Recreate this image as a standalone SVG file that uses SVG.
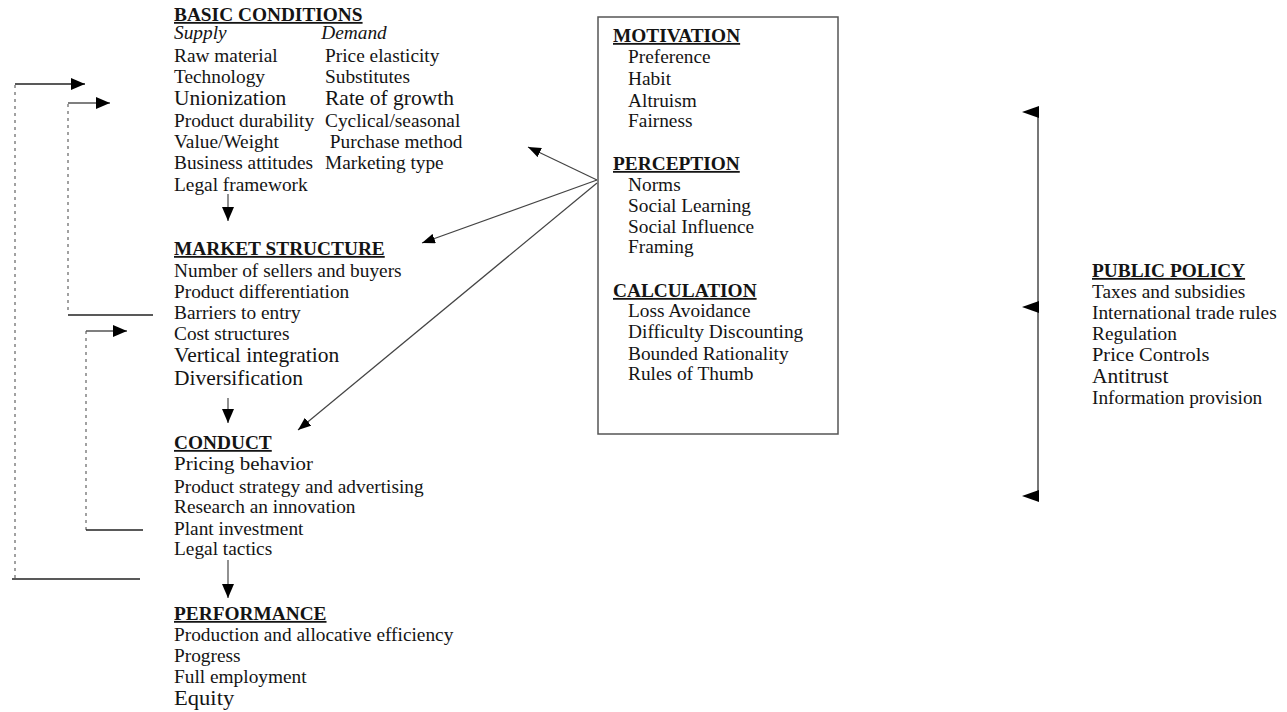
<svg xmlns="http://www.w3.org/2000/svg" width="1287" height="712" viewBox="0 0 1287 712">
<defs>
<style>
text{font-family:"Liberation Serif","Times New Roman",serif;font-size:18px;fill:#141414}
.h{font-weight:bold;text-decoration:underline}
.it{font-style:italic}
.big{font-size:20px}
.solid{stroke:#222;stroke-width:1.3;fill:none}
.grey{stroke:#555;stroke-width:1.3;fill:none}
.dash{stroke:#8a8a8a;stroke-width:1.6;stroke-dasharray:3 4;fill:none}
.diag{stroke:#444;stroke-width:1.2;fill:none}
.head{fill:#000}
</style>
<marker id="ah" viewBox="0 0 14 12" refX="14" refY="6" markerWidth="14" markerHeight="12" markerUnits="userSpaceOnUse" orient="auto">
<path d="M0,0 L14,6 L0,12 z" fill="#000"/>
</marker>
<marker id="ahs" viewBox="0 0 13 10" refX="13" refY="5" markerWidth="13" markerHeight="10" markerUnits="userSpaceOnUse" orient="auto">
<path d="M0,0 L13,5 L0,10 z" fill="#000"/>
</marker>
</defs>
<rect width="1287" height="712" fill="#fff"/>

<g id="connectors">
<!-- outer feedback -->
<line class="dash" x1="15" y1="85" x2="15" y2="578"/>
<line class="solid" x1="15" y1="84" x2="85" y2="84" marker-end="url(#ah)"/>
<line class="solid" x1="12" y1="579" x2="140" y2="579"/>
<!-- inner feedback 1 -->
<line class="dash" x1="68" y1="104" x2="68" y2="314"/>
<line class="grey" x1="68" y1="103" x2="110" y2="103" marker-end="url(#ah)"/>
<line class="solid" x1="68" y1="315" x2="153" y2="315"/>
<!-- inner feedback 2 -->
<line class="dash" x1="86" y1="331" x2="86" y2="530"/>
<line class="grey" x1="86" y1="331" x2="127" y2="331" marker-end="url(#ah)"/>
<line class="solid" x1="86" y1="530" x2="143" y2="530"/>
<!-- vertical flow arrows -->
<line class="grey" x1="228" y1="194" x2="228" y2="221" marker-end="url(#ah)"/>
<line class="grey" x1="228" y1="398" x2="228" y2="423" marker-end="url(#ah)"/>
<line class="grey" x1="228" y1="560" x2="228" y2="598" marker-end="url(#ah)"/>
<!-- behavioural box arrows -->
<line class="diag" x1="597" y1="180" x2="528" y2="147" marker-end="url(#ahs)"/>
<line class="diag" x1="597" y1="180" x2="422" y2="243" marker-end="url(#ahs)"/>
<line class="diag" x1="597" y1="183" x2="298" y2="430" marker-end="url(#ahs)"/>
<!-- public policy bracket -->
<line x1="1038" y1="110" x2="1038" y2="498" stroke="#777" stroke-width="2"/>
<path class="head" d="M1039,106 L1022,112 L1039,118 z"/>
<path class="head" d="M1039,301 L1022,307 L1039,313 z"/>
<path class="head" d="M1039,490 L1022,496 L1039,502 z"/>
</g>

<g id="basic-conditions" transform="translate(174 0) scale(1.075 1)">
<text class="h" y="21">BASIC CONDITIONS</text>
<text class="it" y="39">Supply</text>
<text class="it" x="137" y="39">Demand</text>
<text y="62">Raw material</text>
<text x="140.5" y="62">Price elasticity</text>
<text y="83">Technology</text>
<text x="140.5" y="83">Substitutes</text>
<text class="big" y="105">Unionization</text>
<text class="big" x="140.5" y="105">Rate of growth</text>
<text y="127">Product durability</text>
<text x="140.5" y="127">Cyclical/seasonal</text>
<text y="148">Value/Weight</text>
<text x="145" y="148">Purchase method</text>
<text y="169">Business attitudes</text>
<text x="140.5" y="169">Marketing type</text>
<text y="191">Legal framework</text>
</g>

<g id="market-structure" transform="translate(174 0) scale(1.075 1)">
<text class="h" y="255">MARKET STRUCTURE</text>
<text y="277">Number of sellers and buyers</text>
<text y="298">Product differentiation</text>
<text y="319">Barriers to entry</text>
<text y="340">Cost structures</text>
<text class="big" y="362">Vertical integration</text>
<text class="big" y="385">Diversification</text>
</g>

<g id="conduct" transform="translate(174 0) scale(1.075 1)">
<text class="h" y="449">CONDUCT</text>
<text style="font-size:19.5px" y="470">Pricing behavior</text>
<text y="493">Product strategy and advertising</text>
<text y="513">Research an innovation</text>
<text y="535">Plant investment</text>
<text y="555">Legal tactics</text>
</g>

<g id="performance" transform="translate(174 0) scale(1.075 1)">
<text class="h" y="620">PERFORMANCE</text>
<text y="641">Production and allocative efficiency</text>
<text y="662">Progress</text>
<text y="683">Full employment</text>
<text style="font-size:21px" y="705">Equity</text>
</g>

<g id="behavioral-box">
<rect x="598" y="17" width="240" height="417" fill="none" stroke="#555" stroke-width="1.5"/>
<g transform="translate(613 0) scale(1.075 1)">
<text class="h" y="42">MOTIVATION</text>
<text x="14" y="63">Preference</text>
<text x="14" y="85">Habit</text>
<text x="14" y="107">Altruism</text>
<text x="14" y="127">Fairness</text>
<text class="h" y="170">PERCEPTION</text>
<text x="14" y="191">Norms</text>
<text x="14" y="212">Social Learning</text>
<text x="14" y="233">Social Influence</text>
<text x="14" y="253">Framing</text>
<text class="h" y="297">CALCULATION</text>
<text x="14" y="317">Loss Avoidance</text>
<text x="14" y="338">Difficulty Discounting</text>
<text x="14" y="360">Bounded Rationality</text>
<text x="14" y="380">Rules of Thumb</text>
</g>
</g>

<g id="public-policy" transform="translate(1092 0) scale(1.075 1)">
<text class="h" y="277">PUBLIC POLICY</text>
<text y="298">Taxes and subsidies</text>
<text y="319">International trade rules</text>
<text y="340">Regulation</text>
<text style="font-size:19px" y="361">Price Controls</text>
<text class="big" y="383">Antitrust</text>
<text y="404">Information provision</text>
</g>
</svg>
